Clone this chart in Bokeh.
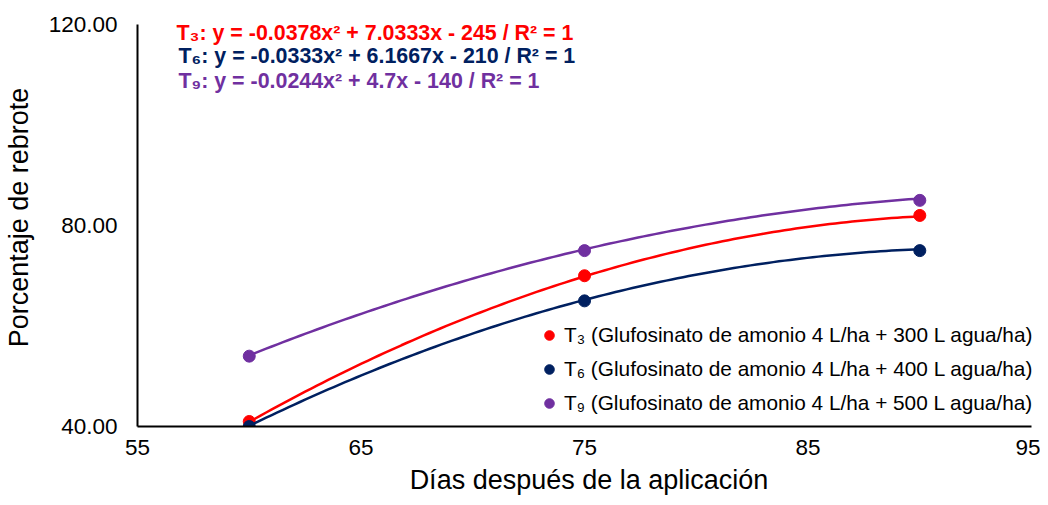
import numpy as np
from bokeh.plotting import figure
from bokeh.models import (Label, Legend, LegendItem, Range1d, FixedTicker,
                          NumeralTickFormatter)
from bokeh.embed import file_html
from bokeh.resources import INLINE

# ---- data ----
days = [60, 75, 90]
t3_values = [41, 70, 82]
t6_values = [40, 65, 75]
t9_values = [54, 75, 85]

t3_coef = [-0.0378, 7.0333, -245]
t6_coef = [-0.0333, 6.1667, -210]
t9_coef = [-0.0244, 4.7, -140]

series_names = [
    "T\u2083 (Glufosinato de amonio 4 L/ha + 300 L agua/ha)",
    "T\u2086 (Glufosinato de amonio 4 L/ha + 400 L agua/ha)",
    "T\u2089 (Glufosinato de amonio 4 L/ha + 500 L agua/ha)",
]
equations = [
    "T\u2083: y = -0.0378x\u00b2 + 7.0333x - 245 / R\u00b2 = 1",
    "T\u2086: y = -0.0333x\u00b2 + 6.1667x - 210 / R\u00b2 = 1",
    "T\u2089: y = -0.0244x\u00b2 + 4.7x - 140 / R\u00b2 = 1",
]
colors = ["#FF0000", "#002060", "#7030A0"]

x_ticks = [55, 65, 75, 85, 95]
y_ticks = [40, 80, 120]

FONT = "Liberation Sans"

p = figure(width=1040, height=497, output_backend="svg", toolbar_location=None,
           x_range=Range1d(55, 95.40), y_range=Range1d(40, 123.18),
           min_border_left=137, min_border_right=0, min_border_top=8,
           min_border_bottom=71)
p.outline_line_color = None
p.xgrid.visible = False
p.ygrid.visible = False
p.background_fill_color = "white"
p.border_fill_color = "white"

for ax in (p.xaxis[0], p.yaxis[0]):
    ax.axis_line_color = "black"
    ax.axis_line_width = 2
    ax.major_tick_in = 0
    ax.major_tick_out = 0
    ax.minor_tick_in = 0
    ax.minor_tick_out = 0
    ax.major_label_text_font = FONT
    ax.major_label_text_font_size = "22.5px"
    ax.major_label_text_color = "black"
    ax.axis_label_text_font = FONT
    ax.axis_label_text_font_size = "27px"
    ax.axis_label_text_font_style = "normal"
    ax.axis_label_text_color = "black"

p.xaxis.bounds = (55, 95)
p.yaxis.bounds = (40, 120)
p.xaxis.ticker = FixedTicker(ticks=x_ticks)
p.yaxis.ticker = FixedTicker(ticks=y_ticks)
p.yaxis.formatter = NumeralTickFormatter(format="0.00")
p.xaxis.axis_label = "Días después de la aplicación"
p.yaxis.axis_label = "Porcentaje de rebrote"
p.xaxis.major_label_standoff = 13
p.yaxis.major_label_standoff = 20
p.xaxis.axis_label_standoff = 7
p.yaxis.axis_label_standoff = 12

items = []
for vals, coef, col, name in zip([t3_values, t6_values, t9_values],
                                 [t3_coef, t6_coef, t9_coef], colors, series_names):
    xs = np.linspace(min(days), max(days), 120)
    ys = np.polyval(coef, xs)
    p.line(xs, ys, line_color=col, line_width=2.5)
    r = p.scatter(days, vals, size=12, fill_color=col, line_color=col)
    items.append(LegendItem(label=name, renderers=[r]))

legend = Legend(items=items, location=(400, 7))
legend.background_fill_alpha = 0
legend.border_line_alpha = 0
legend.padding = 0
legend.margin = 0
legend.spacing = 2
legend.glyph_width = 24
legend.glyph_height = 32
legend.label_height = 32
legend.label_standoff = 3
legend.label_text_font = FONT
legend.label_text_font_size = "20.8px"
legend.label_text_color = "black"
p.add_layout(legend)

eq_pos = [(39, 394), (41, 371), (41, 346)]
for txt, col, (lx, ly) in zip(equations, colors, eq_pos):
    p.add_layout(Label(x=lx, y=ly, x_units="screen", y_units="screen", text=txt,
                       text_color=col, text_font=FONT, text_font_style="bold",
                       text_font_size="21.4px", text_baseline="alphabetic"))

open("out.html", "w").write(file_html(p, INLINE))
